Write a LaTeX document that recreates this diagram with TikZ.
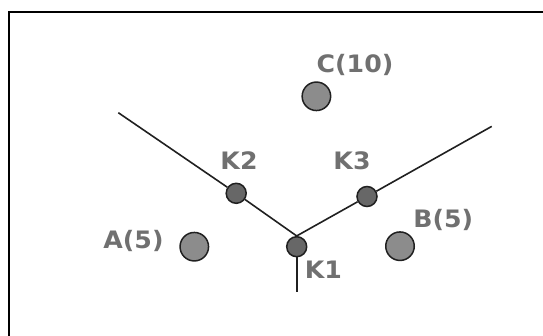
\documentclass[tikz,border=0pt]{standalone}
\usepackage{fontspec}
\setmainfont{DejaVu Sans}[BoldFont={DejaVu Sans Bold},BoldFeatures={FakeStretch=1.05}]
\usepackage{tikz}

\definecolor{labelgray}{HTML}{707070}
\definecolor{bigfill}{HTML}{8C8C8C}
\definecolor{smallfill}{HTML}{676767}
\definecolor{rim}{HTML}{202020}

\tikzset{
	site/.style={circle, draw=rim, line width=1.5pt, fill=bigfill, minimum size=28.5pt, inner sep=0pt},
	knot/.style={circle, draw=rim, line width=1.5pt, fill=smallfill, minimum size=20pt, inner sep=0pt},
	tag/.style={text=labelgray, font=\fontsize{24}{24}\selectfont\bfseries, anchor=base, inner sep=0pt},
	edge/.style={draw=rim, line width=1.6pt}
}

\begin{document}
\begin{tikzpicture}[x=1pt, y=-1pt]
	\useasboundingbox (0,0) rectangle (543,336);
	\draw[line width=2pt] (9,336) -- (9,12) -- (543,12);
	% the network
	\coordinate (lend) at (118.3,112.7);
	\coordinate (rend) at (491.7,126.4);
	\coordinate (bend) at (296.7,292.5);
	\node[knot] (K1) at (296.7,246.7) {};
	\node[knot] (K2) at (236.2,193.3) {};
	\node[knot] (K3) at (367,196.5) {};
	\draw[edge] (lend) -- (K2) -- (K1.north) -- (K3) -- (rend);
	\draw[edge] (K1) -- (bend);
	% the sites
	\node[site] (A) at (194.3,246.7) {};
	\node[site] (B) at (400,246.2) {};
	\node[site] (C) at (316.4,96.3) {};
	% labels
	\node[tag] (Alab) at (133.5,248.8) {A(5)};
	\node[tag] (Blab) at (443.2,227.2) {B(5)};
	\node[tag] (Clab) at (355,72.2) {C(10)};
	\node[tag] (K1lab) at (323.3,278.2) {K1};
	\node[tag] (K2lab) at (239,169.8) {K2};
	\node[tag] (K3lab) at (352,170) {K3};
\end{tikzpicture}
\end{document}
